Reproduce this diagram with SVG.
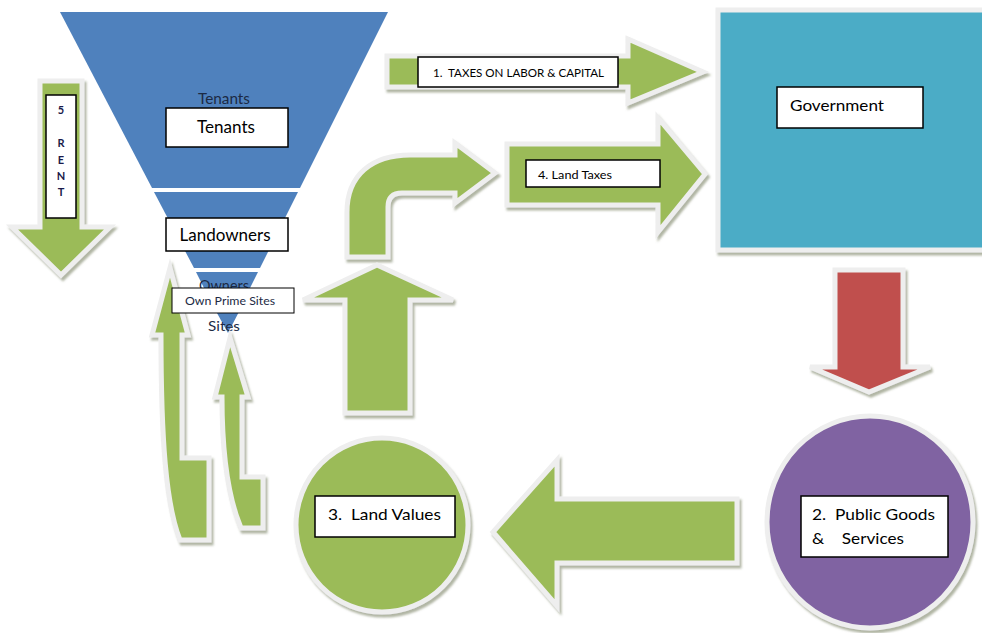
<svg xmlns="http://www.w3.org/2000/svg" width="982" height="633" viewBox="0 0 982 633">
<defs>
<filter id="sh" x="-10%" y="-10%" width="130%" height="130%">
<feDropShadow dx="2" dy="3" stdDeviation="1.2" flood-color="#6f7a5a" flood-opacity="0.55"/>
</filter>
</defs>
<style>
.g{fill:#9bbb59;stroke:#eeeeee;stroke-width:5;stroke-linejoin:miter;filter:url(#sh)}
.fun{fill:#4f81bd}
.box{fill:#ffffff;stroke:#000000;stroke-width:1.5}
.t{font-family:Lato,"Liberation Sans",sans-serif;fill:#000000;white-space:pre}
.ft{font-family:Lato,"Liberation Sans",sans-serif;fill:#1c2a44;white-space:pre}
.r{font-family:Lato,"Liberation Sans",sans-serif;fill:#1a1a4a;font-size:11px;font-weight:bold;text-anchor:middle}
</style>
<rect width="982" height="633" fill="#ffffff"/>

<g id="funnel">
<polygon class="fun" points="60,12 388,12 300,188 152,188"/>
<polygon class="fun" points="154,192 298,192 260,268 194,268"/>
<polygon class="fun" points="196,272 258,272 244,300 210,300"/>
<polygon class="fun" points="212,304 243,304 228,333"/>
<text class="ft" x="224" y="104" font-size="15" text-anchor="middle" textLength="52" lengthAdjust="spacingAndGlyphs">Tenants</text>
<text class="ft" x="224" y="291" font-size="15" text-anchor="middle" textLength="50" lengthAdjust="spacingAndGlyphs">Owners</text>
<text class="ft" x="224" y="331" font-size="14" text-anchor="middle" textLength="32" lengthAdjust="spacingAndGlyphs">Sites</text>
</g>

<g id="connectors">
<polygon id="rent-arrow" class="g" points="40,81 82,81 82,227 110,227 61,275 12,227 40,227"/>
<polygon id="arrow-taxes" class="g" points="387,56 628,56 628,39 703,72 628,103 628,87 387,87"/>
<polygon id="arrow-landtaxes" class="g" points="507,144 658,144 658,118 705,174 658,232 658,205 507,205"/>
<path id="arrow-bent" class="g" d="M347,257 L347,212 C347,175 372,155 410,155 L455,155 L455,143 L495,173 L455,203 L455,193 L402,193 Q388,193 388,207 L388,257 Z"/>
<polygon id="arrow-up" class="g" points="345,413 345,300 303,300 377,265 453,300 410,300 410,413"/>
<polygon id="arrow-gov-down" class="g" style="fill:#c0504d" points="835,270 903,270 903,367 930,367 869,392 810,367 835,367"/>
<polygon id="arrow-left" class="g" points="737,499 737,563 557,563 557,606 493,532 557,460 557,499"/>
<path id="arrow-curve-1" class="g" d="M180,540 C166,505 161,440 161,335 L152,335 L170,268 L188,335 L182,335 L182,458 L209,458 L209,540 Z"/>
<path id="arrow-curve-2" class="g" d="M241,528 C227,495 222,450 222,397 L215,397 L230,338 L248,397 L242,397 L242,477 L263,477 L263,528 Z"/>
</g>

<g id="rent">
<rect class="box" x="46" y="95" width="30" height="123"/>
<text class="r" x="61" y="114">5</text>
<text class="r" x="61" y="147">R</text>
<text class="r" x="61" y="164">E</text>
<text class="r" x="61" y="180">N</text>
<text class="r" x="61" y="196">T</text>
</g>

<g id="tenants">
<rect class="box" x="166" y="108" width="122" height="39"/>
<text class="t" x="226" y="133" font-size="17" text-anchor="middle" textLength="58" lengthAdjust="spacingAndGlyphs">Tenants</text>
</g>

<g id="landowners">
<rect class="box" x="166" y="218" width="122" height="33"/>
<text class="t" x="225" y="241" font-size="17" text-anchor="middle" textLength="91" lengthAdjust="spacingAndGlyphs">Landowners</text>
</g>

<g id="own-prime-sites">
<rect class="box" x="172" y="288" width="122" height="25" style="stroke-width:1"/>
<text class="ft" x="230" y="305" font-size="11" text-anchor="middle" textLength="90" lengthAdjust="spacingAndGlyphs">Own Prime Sites</text>
</g>

<g id="taxes-label">
<rect class="box" x="418" y="57" width="200" height="30"/>
<text class="t" x="433" y="77" font-size="12" textLength="171" lengthAdjust="spacingAndGlyphs">1.  TAXES ON LABOR &amp; CAPITAL</text>
</g>

<g id="landtaxes-label">
<rect class="box" x="526" y="160" width="134" height="27"/>
<text class="t" x="538" y="179" font-size="12" textLength="74" lengthAdjust="spacingAndGlyphs">4. Land Taxes</text>
</g>

<g id="government">
<rect x="718" y="10" width="272" height="240" fill="#4bacc6" stroke="#eeeeee" stroke-width="5" filter="url(#sh)"/>
<rect class="box" x="777" y="87" width="146" height="41"/>
<text class="t" x="790" y="111" font-size="16" textLength="94" lengthAdjust="spacingAndGlyphs">Government</text>
</g>

<g id="public-goods">
<ellipse cx="870" cy="522" rx="103" ry="106" fill="#8064a2" stroke="#eeeeee" stroke-width="5" filter="url(#sh)"/>
<rect class="box" x="801" y="496" width="147" height="61"/>
<text class="t" x="812" y="520" font-size="16" textLength="123" lengthAdjust="spacingAndGlyphs">2.  Public Goods</text>
<text class="t" x="812" y="544" font-size="16" textLength="92" lengthAdjust="spacingAndGlyphs">&amp;    Services</text>
</g>

<g id="land-values">
<ellipse cx="382" cy="525" rx="86" ry="87" fill="#9bbb59" stroke="#eeeeee" stroke-width="5" filter="url(#sh)"/>
<rect class="box" x="315" y="496" width="140" height="41"/>
<text class="t" x="328" y="520" font-size="16" textLength="113" lengthAdjust="spacingAndGlyphs">3.  Land Values</text>
</g>
</svg>
